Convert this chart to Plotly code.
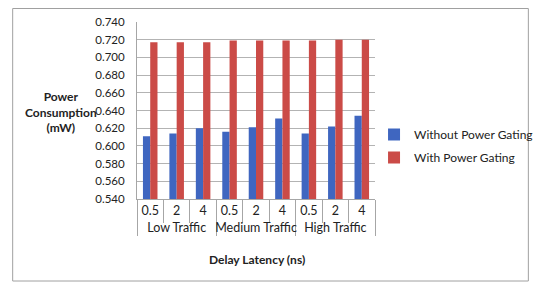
import plotly.graph_objects as go

groups = ["Low Traffic"] * 3 + ["Medium Traffic"] * 3 + ["High Traffic"] * 3
latency = ["0.5", "2", "4"] * 3
without_pg = [0.611, 0.614, 0.620, 0.616, 0.621, 0.631, 0.614, 0.622, 0.634]
with_pg = [0.717, 0.717, 0.717, 0.719, 0.719, 0.719, 0.719, 0.720, 0.720]
y_ticks = [0.54 + 0.02 * i for i in range(11)]

FONT = "Lato"
OFF = 8  # page body margin offset
W, H = 550 - OFF, 288 - OFF
L, R, T, B = 137 - OFF, W - (383 - OFF), 22 - OFF, H - (199 - OFF)
pw, ph = W - L - R, H - T - B

def px(x):
    return (x - OFF - L) / pw

def py(y):
    return (H - B - (y - OFF)) / ph

fig = go.Figure()
fig.add_trace(go.Bar(x=[groups, latency], y=without_pg, name="Without Power Gating",
                     marker=dict(color="#3F66C0", line=dict(width=0)), legendgroup="a"))
fig.add_trace(go.Bar(x=[groups, latency], y=with_pg, name="With Power Gating",
                     marker=dict(color="#CB4B47", line=dict(width=0)), legendgroup="b"))

fig.update_layout(
    template="none",
    width=W, height=H,
    margin=dict(l=L, r=R, t=T, b=B, pad=0),
    paper_bgcolor="white", plot_bgcolor="white",
    font=dict(family=FONT, size=12, color="#222"),
    barmode="group", bargap=0.45, bargroupgap=0,
    showlegend=True,
    legend=dict(x=px(382), y=py(146), xanchor="left", yanchor="middle",
                font=dict(family=FONT, size=12, color="#222"),
                traceorder="grouped", tracegroupgap=4, bgcolor="rgba(0,0,0,0)", borderwidth=0),
    xaxis=dict(type="multicategory", automargin=False, showline=True, linecolor="#a6a6a6", linewidth=1,
               ticks="outside", tickson="boundaries", ticklen=23, tickcolor="#a6a6a6",
               tickangle=0,
               showdividers=True, dividercolor="#a6a6a6", dividerwidth=1,
               tickfont=dict(family=FONT, size=12.5, color="#222"), showgrid=False),
    yaxis=dict(automargin=False, range=[0.54, 0.74], tickvals=y_ticks, tickformat=".3f",
               showgrid=True, gridcolor="#b3b3b3", gridwidth=1,
               showline=True, linecolor="#a6a6a6", linewidth=1,
               ticks="", ticklabelstandoff=9,
               tickfont=dict(family=FONT, size=11.5, color="#222"), zeroline=False),
    shapes=[dict(type="rect", xref="paper", yref="paper",
                 x0=px(OFF + 0.5), x1=px(541.5), y0=py(281), y1=py(OFF + 0.5),
                 line=dict(color="#a0a0a0", width=1), fillcolor="rgba(0,0,0,0)", layer="above")],
    annotations=[
        dict(text="<b>Power<br>Consumption<br>(mW)</b>", xref="paper", yref="paper",
             x=px(58), y=py(112), xanchor="center", yanchor="middle", showarrow=False,
             font=dict(family=FONT, size=12, color="#222"), align="center"),
        dict(text="<b>Delay Latency (ns)</b>", xref="paper", yref="paper",
             x=px(261), y=py(259), xanchor="center", yanchor="middle", showarrow=False,
             font=dict(family=FONT, size=12, color="#222")),
    ],
)

fig.write_html("out.html")
